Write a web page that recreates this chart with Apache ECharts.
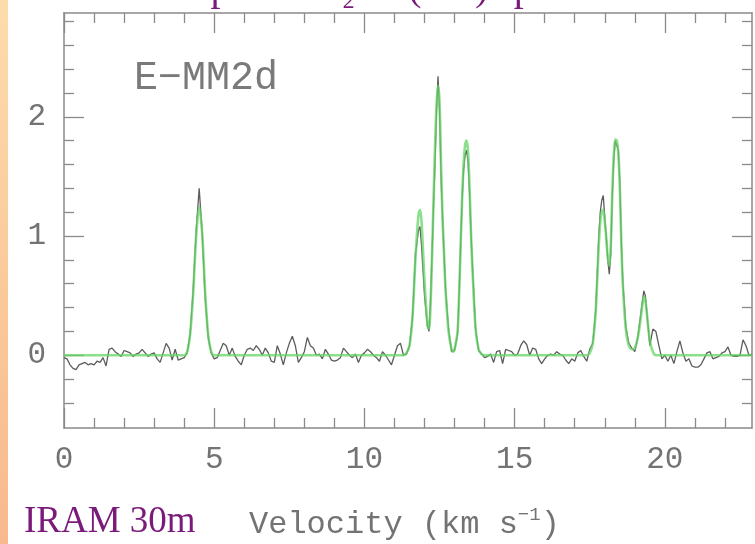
<!DOCTYPE html>
<html>
<head>
<meta charset="utf-8">
<script src="https://cdn.jsdelivr.net/npm/echarts@6/dist/echarts.min.js"></script>
<style>
  html, body { margin: 0; padding: 0; background: #ffffff; }
  #chart { width: 755px; height: 544px; }
</style>
</head>
<body>
<div id="chart"></div>
<script>
// ---- Data (velocity in km/s, intensity) ----
const velocity = [
  0.0,0.1,0.2,0.3,0.4,0.5,0.6,0.7,0.8,0.9,
  1.0,1.1,1.2,1.3,1.4,1.5,1.6,1.7,1.8,1.9,
  2.0,2.1,2.2,2.3,2.4,2.5,2.6,2.7,2.8,2.9,
  3.0,3.1,3.2,3.3,3.4,3.5,3.6,3.7,3.8,3.9,
  4.0,4.1,4.2,4.3,4.4,4.5,4.6,4.7,4.8,4.9,
  5.0,5.1,5.2,5.3,5.4,5.5,5.6,5.7,5.8,5.9,
  6.0,6.1,6.2,6.3,6.4,6.5,6.6,6.7,6.8,6.9,
  7.0,7.1,7.2,7.3,7.4,7.5,7.6,7.7,7.8,7.9,
  8.0,8.1,8.2,8.3,8.4,8.5,8.6,8.7,8.8,8.9,
  9.0,9.1,9.2,9.3,9.4,9.5,9.6,9.7,9.8,9.9,
  10.0,10.1,10.2,10.3,10.4,10.5,10.6,10.7,10.8,10.9,
  11.0,11.1,11.2,11.3,11.4,11.5,11.6,11.7,11.8,11.85,11.9,
  12.0,12.1,12.15,12.2,12.25,12.3,12.35,12.4,12.45,12.5,12.55,12.6,12.65,12.7,12.8,12.9,
  13.0,13.1,13.15,13.2,13.25,13.3,13.35,13.4,13.45,13.5,13.55,13.6,13.7,13.8,13.9,
  14.0,14.1,14.2,14.3,14.4,14.5,14.6,14.7,14.8,14.9,
  15.0,15.1,15.2,15.3,15.4,15.5,15.6,15.7,15.8,15.9,
  16.0,16.1,16.2,16.3,16.4,16.5,16.6,16.7,16.8,16.9,
  17.0,17.1,17.2,17.3,17.4,17.5,17.6,17.7,17.8,17.85,17.9,17.95,
  18.0,18.05,18.1,18.15,18.2,18.25,18.3,18.35,18.4,18.45,18.5,18.55,18.6,18.7,18.8,18.9,
  19.0,19.1,19.2,19.25,19.3,19.35,19.4,19.5,19.6,19.7,19.8,19.9,
  20.0,20.1,20.2,20.3,20.4,20.5,20.6,20.7,20.8,20.9,
  21.0,21.1,21.2,21.3,21.4,21.5,21.6,21.7,21.8,21.9,
  22.0,22.1,22.2,22.3,22.4,22.5,22.6,22.7,22.8,22.9
];
const observed = [
  -0.02,-0.03,-0.08,-0.11,-0.12,-0.08,-0.07,-0.06,-0.08,-0.07,
  -0.08,-0.05,-0.06,-0.02,-0.09,0.05,0.06,0.03,0.01,-0.01,
  0.04,0.03,0.02,-0.01,0.01,0.02,0.05,0.02,-0.01,0.01,
  0.02,-0.03,-0.06,0.02,0.10,0.06,-0.04,0.05,-0.04,-0.03,
  -0.02,0.02,0.18,0.55,1.05,1.40,1.02,0.48,0.15,0.02,
  -0.03,-0.02,0.04,0.10,0.08,0.00,0.06,-0.01,-0.05,-0.08,
  0.00,0.05,0.06,0.04,0.08,0.05,0.00,0.06,0.02,-0.05,
  -0.06,0.08,0.01,-0.08,0.02,0.10,0.16,0.08,-0.06,-0.02,
  0.03,0.15,0.08,0.06,0.00,0.01,-0.03,0.05,0.01,-0.04,
  -0.05,-0.04,-0.02,0.06,0.03,0.00,-0.02,0.01,-0.06,0.00,
  0.02,0.05,0.03,0.00,-0.02,-0.05,0.03,0.00,-0.04,-0.08,
  0.00,0.08,0.10,0.00,0.01,0.08,0.32,0.85,1.05,1.08,0.92,
  0.50,0.24,0.20,0.45,0.85,1.25,1.62,2.05,2.34,2.05,1.50,1.15,0.85,0.55,0.22,0.03,
  0.04,0.18,0.50,0.92,1.30,1.55,1.68,1.72,1.62,1.35,1.00,0.72,0.22,0.04,0.01,
  -0.02,-0.01,0.01,-0.06,0.03,0.04,-0.07,0.05,0.04,0.03,
  0.00,0.01,0.08,0.12,0.09,0.00,0.06,0.05,-0.03,-0.07,
  -0.03,0.00,0.01,0.00,0.03,0.01,0.00,-0.04,-0.07,-0.03,
  -0.05,0.02,0.04,-0.01,-0.05,0.05,0.10,0.38,1.00,1.20,1.30,1.34,
  1.15,0.99,0.80,0.68,0.85,1.35,1.65,1.80,1.80,1.72,1.45,0.95,0.62,0.24,0.10,0.06,
  0.03,0.15,0.35,0.45,0.54,0.50,0.36,0.08,0.22,0.20,0.08,-0.03,
  0.00,-0.05,0.00,-0.07,0.03,0.12,0.02,-0.05,-0.03,-0.09,
  -0.10,-0.10,-0.08,-0.03,0.02,0.03,-0.03,-0.02,-0.01,0.02,
  0.03,0.07,0.00,-0.01,-0.01,0.00,0.13,0.08,0.00,0.01
];
const fitVelocity = [
  0.0,4.0,4.1,4.2,4.3,4.4,4.5,4.6,4.7,4.8,4.9,5.0,
  11.3,11.4,11.5,11.6,11.7,11.8,11.85,11.9,12.0,12.1,12.15,12.2,12.25,12.3,12.35,12.4,12.45,12.5,
  12.55,12.6,12.65,12.7,12.8,12.9,12.95,13.0,13.1,13.15,13.2,13.25,13.3,13.35,13.4,13.45,13.5,
  13.55,13.6,13.7,13.8,13.9,14.0,
  17.4,17.5,17.6,17.7,17.8,17.85,17.9,17.95,18.0,18.05,18.1,18.15,18.2,18.25,18.3,18.35,18.4,
  18.45,18.5,18.55,18.6,18.7,18.8,18.9,19.0,19.1,19.2,19.25,19.3,19.35,19.4,19.5,19.6,19.7,22.9
];
const fitIntensity = [
  0.0,0.0,0.03,0.18,0.52,1.00,1.25,1.02,0.52,0.17,0.03,0.0,
  0.0,0.02,0.08,0.32,0.82,1.18,1.22,1.12,0.62,0.25,0.22,0.42,0.82,1.30,1.75,2.10,2.26,2.12,
  1.60,1.15,0.85,0.55,0.20,0.05,0.03,0.05,0.20,0.50,0.90,1.30,1.60,1.76,1.80,1.70,1.40,
  1.00,0.70,0.22,0.05,0.01,0.0,
  0.0,0.02,0.10,0.38,0.92,1.12,1.20,1.22,1.12,0.98,0.82,0.75,0.92,1.35,1.68,1.81,1.80,
  1.70,1.42,0.95,0.60,0.22,0.08,0.05,0.06,0.15,0.32,0.42,0.49,0.46,0.35,0.12,0.03,0.0,0.0
];
const xMajorTicks = [0, 5, 10, 15, 20];
const xMinorTicks = [1,2,3,4,6,7,8,9,11,12,13,14,16,17,18,19,21,22];
const yMajorTicks = [0, 1, 2];
const yMinorTicks = [-0.4,-0.2,0.2,0.4,0.6,0.8,1.2,1.4,1.6,1.8,2.2,2.4,2.6,2.8];
const X_MIN = 0, X_MAX = 22.9, Y_MIN = -0.61, Y_MAX = 2.87;

const frameColor = '#8a8a8a';
const labelColor = '#737373';
const monoFont = '"Liberation Mono", "DejaVu Sans Mono", monospace';

function makeAxis(dim, position, ticks, len, showLabels, showLine) {
  const ax = {
    type: 'value',
    gridIndex: 0,
    position: position,
    min: dim === 'x' ? X_MIN : Y_MIN,
    max: dim === 'x' ? X_MAX : Y_MAX,
    axisLine: { show: showLine, onZero: false, lineStyle: { color: frameColor, width: 1.5 } },
    axisTick: { show: true, inside: true, length: len, customValues: ticks,
                lineStyle: { color: frameColor, width: 1.3 } },
    axisLabel: { show: showLabels },
    splitLine: { show: false }
  };
  if (showLabels) {
    ax.axisLabel = {
      show: true, customValues: ticks, color: labelColor,
      fontFamily: monoFont, fontSize: 31,
      margin: dim === 'x' ? 16 : 18
    };
  }
  return ax;
}

const chart = echarts.init(document.getElementById('chart'), null, { renderer: 'canvas' });
chart.setOption({
  animation: false,
  backgroundColor: '#ffffff',
  grid: { left: 64, right: 3, top: 13, bottom: 116, containLabel: false },
  xAxis: [
    makeAxis('x', 'bottom', xMajorTicks, 20, true, true),
    makeAxis('x', 'bottom', xMinorTicks, 10, false, false),
    makeAxis('x', 'top', xMajorTicks, 20, false, true),
    makeAxis('x', 'top', xMinorTicks, 10, false, false)
  ],
  yAxis: [
    makeAxis('y', 'left', yMajorTicks, 20, true, true),
    makeAxis('y', 'left', yMinorTicks, 10, false, false),
    makeAxis('y', 'right', yMajorTicks, 20, false, true),
    makeAxis('y', 'right', yMinorTicks, 10, false, false)
  ],
  series: [
    {
      type: 'line', xAxisIndex: 0, yAxisIndex: 0,
      data: velocity.map((v, i) => [v, observed[i]]),
      showSymbol: false, smooth: false,
      lineStyle: { color: '#5c5c5c', width: 1.3 },
      z: 2
    },
    {
      type: 'line', xAxisIndex: 0, yAxisIndex: 0,
      data: fitVelocity.map((v, i) => [v, fitIntensity[i]]),
      showSymbol: false, smooth: 0.3,
      lineStyle: { color: '#66d466', width: 2.6, opacity: 0.75 },
      z: 3
    }
  ],
  graphic: [
    {
      type: 'rect', left: 0, top: 0, silent: true,
      shape: { width: 8, height: 544 },
      style: {
        fill: new echarts.graphic.LinearGradient(0, 0, 0, 1, [
          { offset: 0, color: '#fddcab' },
          { offset: 1, color: '#f8b98d' }
        ])
      }
    },
    {
      type: 'text', x: 381, y: 9, silent: true,
      style: {
        text: 'Example of N₂H⁺ (1-0) spectrum',
        fill: '#7a1a7a', font: '40px "Liberation Serif", serif',
        align: 'center', verticalAlign: 'bottom'
      }
    },
    {
      type: 'text', x: 134, y: 78, silent: true,
      style: {
        text: 'E−MM2d', fill: '#7a7a7a',
        font: '40px "Liberation Mono", monospace',
        align: 'left', verticalAlign: 'middle'
      }
    },
    {
      type: 'text', x: 24, y: 522, silent: true,
      style: {
        text: 'IRAM 30m', fill: '#7a1a7a',
        font: '37px "Liberation Serif", serif',
        align: 'left', verticalAlign: 'middle'
      }
    },
    {
      type: 'text', x: 249, y: 505, silent: true,
      style: {
        text: '{a|Velocity (km s}{s|−1}{a|)}',
        fill: '#737373',
        align: 'left', verticalAlign: 'top',
        rich: {
          a: { fontFamily: monoFont, fontSize: 32, color: '#737373', lineHeight: 36, verticalAlign: 'bottom' },
          s: { fontFamily: monoFont, fontSize: 19, color: '#737373', lineHeight: 36, verticalAlign: 'top' }
        }
      }
    }
  ]
});
</script>
</body>
</html>
